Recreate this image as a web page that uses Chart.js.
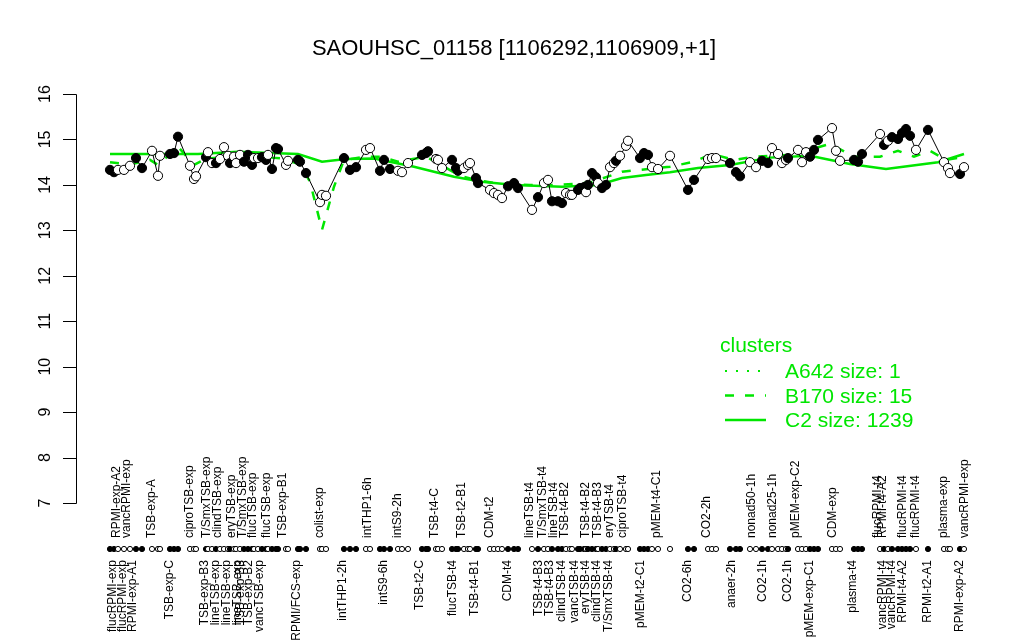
<!DOCTYPE html>
<html>
<head>
<meta charset="utf-8">
<script src="https://cdn.jsdelivr.net/npm/chart.js@4.4.1/dist/chart.umd.min.js"></script>
<style>
  html, body { margin: 0; padding: 0; background: #fff; }
</style>
</head>
<body>
<canvas id="chart" width="1024" height="640"></canvas>
<script>
// Titel + Y-Achse
const chartTitle = "SAOUHSC_01158 [1106292,1106909,+1]";
const yTicks = [7, 8, 9, 10, 11, 12, 13, 14, 15, 16];

// Messpunkte: Position im Streifen, Wert, gefüllt (1) oder offen (0)
const samplePos = [
  1, 2, 3, 4.5, 6, 7.5, 9,
  11.5, 13, 13.5,
  16, 17, 18,
  21, 22, 22.5,
  25, 25.5, 26.5, 27.5, 28.5, 29.5, 30.5, 31, 32, 32.5, 33.5, 34.5, 35.5, 36.5, 37, 38, 39, 40, 40.5, 41.5, 42.5, 43, 45, 45.5,
  48, 48.5, 50,
  53.5, 54, 55,
  59.5, 61, 62.5,
  65, 66,
  68.5, 69.5, 71,
  73, 74, 75.5,
  79, 80, 80.5,
  82.5, 83, 84,
  86.5, 87.5, 88, 89.5, 90.5, 91, 92.5, 93,
  96, 97, 98, 99, 100.5, 102, 103,
  106.5, 108, 109.5, 110.5, 111.5, 113, 114, 115, 116, 116.5, 118, 118.5, 119.5, 120, 120.5, 121.5, 122.5, 123, 124, 125, 126, 127, 127.5, 128.5, 130, 130.5,
  133.5, 134.5, 135.5, 136.5, 138, 141,
  145.5, 147,
  150.5, 151.5, 152.5,
  156, 157.5, 158.5,
  161, 162.5, 164, 165.5, 166.5, 168, 169, 170, 170.5,
  173, 174, 175, 176, 177, 178,
  181.5, 182.5, 183.5,
  187, 188, 189,
  193.5, 194.5, 195.5, 196.5, 198, 199, 200, 201, 202.5,
  205.5,
  209.5, 210.5, 211,
  213.5, 214.5
];
const sampleValue = [
  14.33, 14.28, 14.33, 14.33, 14.42, 14.59, 14.37,
  14.75, 14.20, 14.64,
  14.68, 14.70, 15.06,
  14.42, 14.13, 14.19,
  14.61, 14.72, 14.48, 14.48, 14.57, 14.83, 14.64, 14.48, 14.62, 14.48, 14.66, 14.51, 14.66, 14.44, 14.59, 14.59, 14.61, 14.55, 14.66, 14.35, 14.81, 14.79, 14.44, 14.53,
  14.55, 14.51, 14.26,
  13.62, 13.78, 13.76,
  14.59, 14.33, 14.39,
  14.77, 14.81,
  14.31, 14.55, 14.35,
  14.31, 14.28, 14.48,
  14.66, 14.70, 14.74,
  14.57, 14.55, 14.37,
  14.55, 14.37, 14.31, 14.37, 14.44, 14.48, 14.15, 14.04,
  13.89, 13.82, 13.78, 13.71, 13.97, 14.04, 13.93,
  13.45, 13.73, 14.04, 14.11, 13.64, 13.64, 13.60, 13.82, 13.78, 13.78, 13.89, 13.93, 13.95, 13.84, 14.00, 14.26, 14.17, 14.04, 13.93, 14.00, 14.39, 14.48, 14.53, 14.64, 14.86, 14.97,
  14.59, 14.70, 14.66, 14.39, 14.35, 14.64,
  13.89, 14.11,
  14.57, 14.59, 14.59,
  14.48, 14.28, 14.19,
  14.50, 14.39, 14.53, 14.48, 14.81, 14.68, 14.48, 14.55, 14.59,
  14.77, 14.50, 14.72, 14.62, 14.77, 14.99,
  15.25, 14.75, 14.53,
  14.55, 14.51, 14.68,
  15.12, 14.88, 14.97, 15.05, 15.01, 15.14, 15.23, 15.08, 14.77,
  15.21,
  14.50, 14.37, 14.26,
  14.24, 14.39
];
const sampleFilled = [
  1, 1, 0, 0, 0, 1, 1,
  0, 0, 0,
  1, 1, 1,
  0, 0, 0,
  1, 0, 0, 1, 0, 0, 0, 1, 0, 0, 0, 1, 1, 1, 0, 0, 1, 1, 0, 1, 1, 1, 0, 0,
  1, 1, 1,
  0, 0, 0,
  1, 1, 1,
  0, 0,
  1, 1, 1,
  0, 0, 0,
  1, 1, 1,
  0, 0, 0,
  1, 1, 1, 0, 0, 0, 1, 1,
  0, 0, 0, 0, 1, 1, 1,
  0, 1, 0, 0, 1, 1, 1, 0, 0, 0, 1, 1, 1, 0, 1, 1, 1, 0, 1, 1, 0, 0, 1, 0, 0, 0,
  1, 1, 1, 0, 0, 0,
  1, 1,
  0, 0, 0,
  1, 1, 1,
  0, 0, 1, 1, 0, 0, 0, 0, 1,
  0, 0, 0, 1, 1, 1,
  0, 0, 0,
  1, 1, 1,
  0, 1, 0, 1, 1, 1, 1, 1, 0,
  1,
  0, 0, 0,
  1, 0
];

// Cluster-Mittelwerte
const c2Pos = [1, 23, 33, 48, 54, 60, 67, 77, 82, 87, 94, 102, 114, 123, 129, 135, 141, 148, 156, 166, 176, 186, 195, 208, 214.5];
const c2Value = [14.68, 14.68, 14.73, 14.68, 14.51, 14.57, 14.58, 14.40, 14.29, 14.18, 14.07, 14.00, 13.96, 14.00, 14.15, 14.22, 14.28, 14.37, 14.44, 14.60, 14.64, 14.46, 14.35, 14.50, 14.68];
const b170Pos = [1, 6, 11, 13, 18, 22, 25, 31, 38.5, 44, 48.5, 51, 54, 57, 59.5, 65, 69, 73, 80, 83.5, 88.5, 93, 98.5, 106, 113.5, 121, 129, 133.5, 141, 147, 151.5, 157, 162, 171, 181, 187, 193.5, 198, 202, 206, 210, 214.5];
const b170Value = [14.50, 14.45, 14.55, 14.44, 14.84, 14.44, 14.58, 14.62, 14.62, 14.58, 14.45, 14.07, 13.01, 13.96, 14.55, 14.62, 14.62, 14.51, 14.62, 14.45, 14.20, 14.10, 14.02, 14.00, 14.00, 14.05, 14.29, 14.33, 14.40, 14.51, 14.68, 14.55, 14.62, 14.66, 14.90, 14.62, 14.62, 14.75, 14.62, 14.75, 14.55, 14.62];
const a642Pos = [];
const a642Value = [];

// Beschriftungen unter / über der Punktreihe
const bottomLabelPos = [1.75, 4.25, 6.75, 16, 24.75, 27.5, 30.25, 33, 33.75, 35.75, 38.5, 47.75, 59.25, 69.5, 78.5, 86.75, 92.25, 100.5, 108.25, 111, 114, 117.25, 120, 122.75, 125.75, 133.75, 145.5, 156.5, 164.25, 170.5, 176, 186.75, 194.25, 196.5, 199.25, 205.5, 213.5];
const bottomLabels = ["flucRPMI-exp", "flucRPMI-exp", "RPMI-exp-A1", "TSB-exp-C", "TSB-exp-B3", "lineTSB-exp", "lineTSB-exp", "lineTSB-exp", "TSB-exp-B3", "TSB-exp-B2", "vancTSB-exp", "RPMI/FCS-exp", "intTHP1-2h", "intS9-6h", "TSB-t2-C", "flucTSB-t4", "TSB-t4-B1", "CDM-t4", "TSB-t4-B3", "TSB-t4-B3", "clindTSB-t4", "vancTSB-t4", "eryTSB-t4", "clindTSB-t4", "T/SmxTSB-t4", "pMEM-t2-C1", "CO2-6h", "anaer-2h", "CO2-1h", "CO2-1h", "pMEM-exp-C1", "plasma-t4", "vancRPMI-t4", "vancRPMI-t4", "RPMI-t4-A2", "RPMI-t2-A1", "RPMI-exp-A2"];
const topLabelPos = [2.75, 5.25, 11.5, 21, 25.25, 28, 31.5, 34.25, 36.75, 40.25, 44.25, 53.5, 65.5, 73, 82.25, 89, 96, 106, 109.25, 112, 114.75, 120, 123, 126, 129.25, 137.75, 150.25, 161.5, 166.75, 172.5, 181.75, 193, 194.25, 199.25, 202.5, 209.5, 214.75];
const topLabels = ["RPMI-exp-A2", "vancRPMI-exp", "TSB-exp-A", "ciproTSB-exp", "T/SmxTSB-exp", "clindTSB-exp", "eryTSB-exp", "T/SmxTSB-exp", "flucTSB-exp", "flucTSB-exp", "TSB-exp-B1", "colist-exp", "intTHP1-6h", "intS9-2h", "TSB-t4-C", "TSB-t2-B1", "CDM-t2", "lineTSB-t4", "T/SmxTSB-t4", "lineTSB-t4", "TSB-t4-B2", "TSB-t4-B2", "TSB-t4-B3", "eryTSB-t4", "ciproTSB-t4", "pMEM-t4-C1", "CO2-2h", "nonad50-1h", "nonad25-1h", "pMEM-exp-C2", "CDM-exp", "flucRPMI-t4", "RPMI-t4-A2", "flucRPMI-t4", "flucRPMI-t4", "plasma-exp", "vancRPMI-exp"];

const GREEN = "#00e600";
const FONT = '"Liberation Sans", Arial, Helvetica, sans-serif';

const toXY = (xs, ys) => xs.map((x, i) => ({ x: x, y: ys[i] }));

// Achse, Titel, Punktreihe, Namen und Legende selbst zeichnen
const stripPlugin = {
  id: "strip",
  afterDraw(chart) {
    const ctx = chart.ctx;
    const xs = chart.scales.x;
    const ys = chart.scales.y;
    const left = chart.chartArea.left;
    ctx.save();

    // Titel
    ctx.fillStyle = "#000";
    ctx.font = "22px " + FONT;
    ctx.textAlign = "center";
    ctx.textBaseline = "alphabetic";
    ctx.fillText(chartTitle, 514, 55);

    // Y-Achse
    ctx.strokeStyle = "#000";
    ctx.lineWidth = 1;
    ctx.beginPath();
    const yTop = Math.round(ys.getPixelForValue(yTicks[yTicks.length - 1])) + 0.5;
    const yBot = Math.round(ys.getPixelForValue(yTicks[0])) + 0.5;
    ctx.moveTo(left + 0.5, yTop);
    ctx.lineTo(left + 0.5, yBot);
    yTicks.forEach(t => {
      const y = Math.round(ys.getPixelForValue(t)) + 0.5;
      ctx.moveTo(left + 0.5, y);
      ctx.lineTo(left - 13, y);
    });
    ctx.stroke();
    ctx.font = "16px " + FONT;
    ctx.textAlign = "center";
    yTicks.forEach(t => {
      ctx.save();
      ctx.translate(left - 26, ys.getPixelForValue(t));
      ctx.rotate(-Math.PI / 2);
      ctx.fillText(String(t), 0, 0);
      ctx.restore();
    });

    // Punktreihe
    ctx.lineWidth = 1;
    samplePos.forEach((p, i) => {
      ctx.beginPath();
      ctx.arc(xs.getPixelForValue(p), 549, 2.6, 0, Math.PI * 2);
      ctx.fillStyle = sampleFilled[i] ? "#000" : "#fff";
      ctx.fill();
      ctx.stroke();
    });

    // Namen
    ctx.fillStyle = "#000";
    ctx.font = "12px " + FONT;
    ctx.textBaseline = "middle";
    bottomLabels.forEach((txt, i) => {
      ctx.save();
      ctx.translate(xs.getPixelForValue(bottomLabelPos[i]), 560);
      ctx.rotate(-Math.PI / 2);
      ctx.textAlign = "right";
      ctx.fillText(txt, 0, 0);
      ctx.restore();
    });
    topLabels.forEach((txt, i) => {
      ctx.save();
      ctx.translate(xs.getPixelForValue(topLabelPos[i]), 538);
      ctx.rotate(-Math.PI / 2);
      ctx.textAlign = "left";
      ctx.fillText(txt, 0, 0);
      ctx.restore();
    });

    // Legende
    ctx.fillStyle = GREEN;
    ctx.strokeStyle = GREEN;
    ctx.font = "21px " + FONT;
    ctx.textAlign = "left";
    ctx.textBaseline = "alphabetic";
    ctx.fillText("clusters", 720, 352);
    const clusterSets = chart.data.datasets.filter(d => d.isCluster);
    clusterSets.forEach((d, i) => {
      const y = 371 + i * 24.5;
      ctx.setLineDash(d.borderDash || []);
      ctx.lineWidth = d.borderWidth;
      ctx.lineCap = "butt";
      ctx.beginPath();
      ctx.moveTo(725, y);
      ctx.lineTo(766, y);
      ctx.stroke();
      ctx.setLineDash([]);
      ctx.fillText(d.label, 785, y + 7);
    });

    ctx.restore();
  }
};

const ctx = document.getElementById("chart");
const chart = new Chart(ctx, {
  type: "line",
  data: {
    datasets: [
      {
        label: "expression",
        data: toXY(samplePos, sampleValue),
        borderColor: "#000",
        borderWidth: 1,
        pointRadius: 4.6,
        pointBorderWidth: 1,
        pointBorderColor: "#000",
        pointBackgroundColor: sampleFilled.map(f => (f ? "#000" : "#fff")),
        order: 0
      },
      {
        label: "A642 size: 1",
        isCluster: true,
        data: toXY(a642Pos, a642Value),
        borderColor: GREEN,
        borderWidth: 2,
        borderDash: [2, 9],
        pointRadius: 0,
        order: 3
      },
      {
        label: "B170 size: 15",
        isCluster: true,
        data: toXY(b170Pos, b170Value),
        borderColor: GREEN,
        borderWidth: 2.5,
        borderDash: [9, 11],
        pointRadius: 0,
        order: 2
      },
      {
        label: "C2 size: 1239",
        isCluster: true,
        data: toXY(c2Pos, c2Value),
        borderColor: GREEN,
        borderWidth: 2.5,
        pointRadius: 0,
        order: 1
      }
    ]
  },
  options: {
    responsive: false,
    animation: false,
    layout: { padding: { left: 76, right: 54, top: 94, bottom: 137 } },
    plugins: {
      legend: { display: false },
      title: { display: false },
      tooltip: { enabled: false }
    },
    scales: {
      x: { type: "linear", min: -7.5, max: 216, display: false },
      y: { type: "linear", min: 7, max: 16, display: false }
    }
  },
  plugins: [stripPlugin]
});
</script>
</body>
</html>
